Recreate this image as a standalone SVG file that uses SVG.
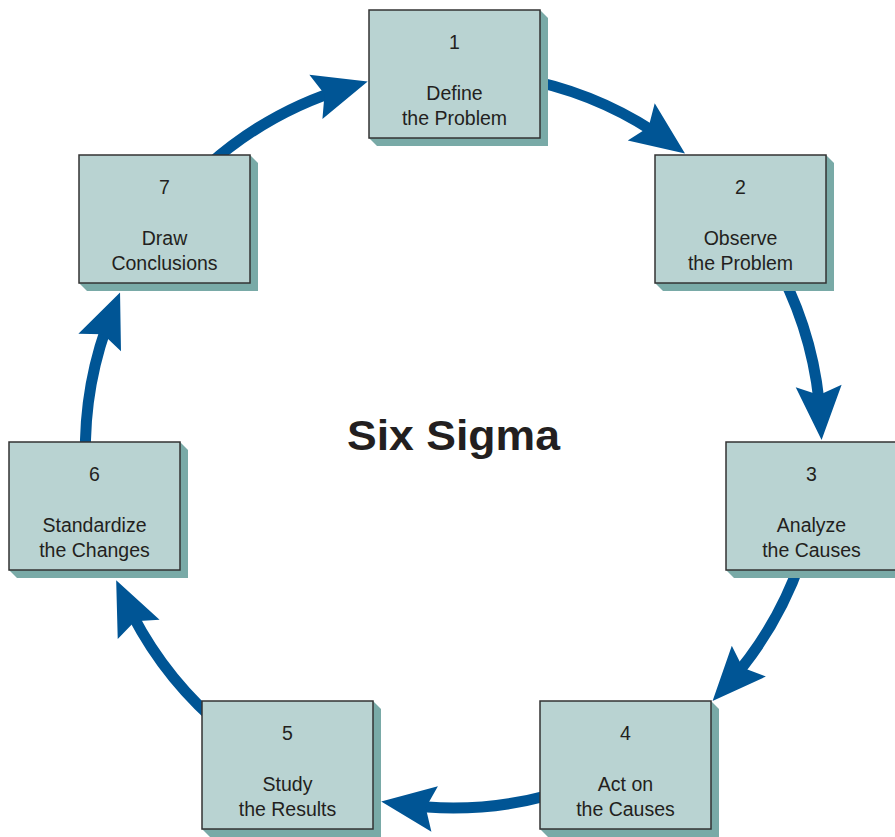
<svg xmlns="http://www.w3.org/2000/svg" xmlns:xlink="http://www.w3.org/1999/xlink" width="895" height="837" viewBox="0 0 895 837">
<style>
.arc{fill:none;stroke:#005595;stroke-width:11;marker-end:url(#ah)}
.lbl{font-family:"Liberation Sans",Arial,sans-serif;font-size:19.5px;fill:#231f20;text-anchor:middle}
.title{font-family:"Liberation Sans",Arial,sans-serif;font-size:42px;font-weight:bold;fill:#231f20;text-anchor:middle}
</style>
<defs>
<marker id="ah" markerUnits="userSpaceOnUse" markerWidth="80" markerHeight="80" viewBox="-50 -30 80 60" refX="0" refY="0" orient="auto" overflow="visible">
<path d="M20,0 L-34,-23 L-25,0 L-34,23 Z" fill="#005595"/>
</marker>
<g id="box">
<polygon points="171,0 179,8 179,136 8,136 0,128" fill="#79aaa7"/>
<rect x="0" y="0" width="171" height="128" fill="#b9d3d2" stroke="#333" stroke-width="1.5"/>
</g>
</defs>
<rect width="895" height="837" fill="#fff"/>
<g id="connectors">
<path class="arc" d="M535.8,81.5 A368,368 0 0 1 668.8,141.9"/>
<path class="arc" d="M781,273 A368,368 0 0 1 820.5,420"/>
<path class="arc" d="M801,560 A368,368 0 0 1 726,686.3"/>
<path class="arc" d="M548,795.5 A368,368 0 0 1 401,804.3"/>
<path class="arc" d="M211.6,717.7 A368,368 0 0 1 124.5,598.5"/>
<path class="arc" d="M85.5,459 A368,368 0 0 1 112.5,311"/>
<path class="arc" d="M206.8,166.5 A368,368 0 0 1 348.5,87.2"/>
</g>
<g id="n1" transform="translate(369,10)"><use xlink:href="#box"/><text class="lbl" x="85.5" y="39">1</text><text class="lbl" x="85.5" y="90">Define</text><text class="lbl" x="85.5" y="115">the Problem</text></g>
<g id="n2" transform="translate(655,155)"><use xlink:href="#box"/><text class="lbl" x="85.5" y="39">2</text><text class="lbl" x="85.5" y="90">Observe</text><text class="lbl" x="85.5" y="115">the Problem</text></g>
<g id="n3" transform="translate(726,442)"><use xlink:href="#box"/><text class="lbl" x="85.5" y="39">3</text><text class="lbl" x="85.5" y="90">Analyze</text><text class="lbl" x="85.5" y="115">the Causes</text></g>
<g id="n4" transform="translate(540,701)"><use xlink:href="#box"/><text class="lbl" x="85.5" y="39">4</text><text class="lbl" x="85.5" y="90">Act on</text><text class="lbl" x="85.5" y="115">the Causes</text></g>
<g id="n5" transform="translate(202,701)"><use xlink:href="#box"/><text class="lbl" x="85.5" y="39">5</text><text class="lbl" x="85.5" y="90">Study</text><text class="lbl" x="85.5" y="115">the Results</text></g>
<g id="n6" transform="translate(9,442)"><use xlink:href="#box"/><text class="lbl" x="85.5" y="39">6</text><text class="lbl" x="85.5" y="90">Standardize</text><text class="lbl" x="85.5" y="115">the Changes</text></g>
<g id="n7" transform="translate(79,155)"><use xlink:href="#box"/><text class="lbl" x="85.5" y="39">7</text><text class="lbl" x="85.5" y="90">Draw</text><text class="lbl" x="85.5" y="115">Conclusions</text></g>
<text class="title" x="453.5" y="450" textLength="213" lengthAdjust="spacingAndGlyphs">Six Sigma</text>
</svg>
